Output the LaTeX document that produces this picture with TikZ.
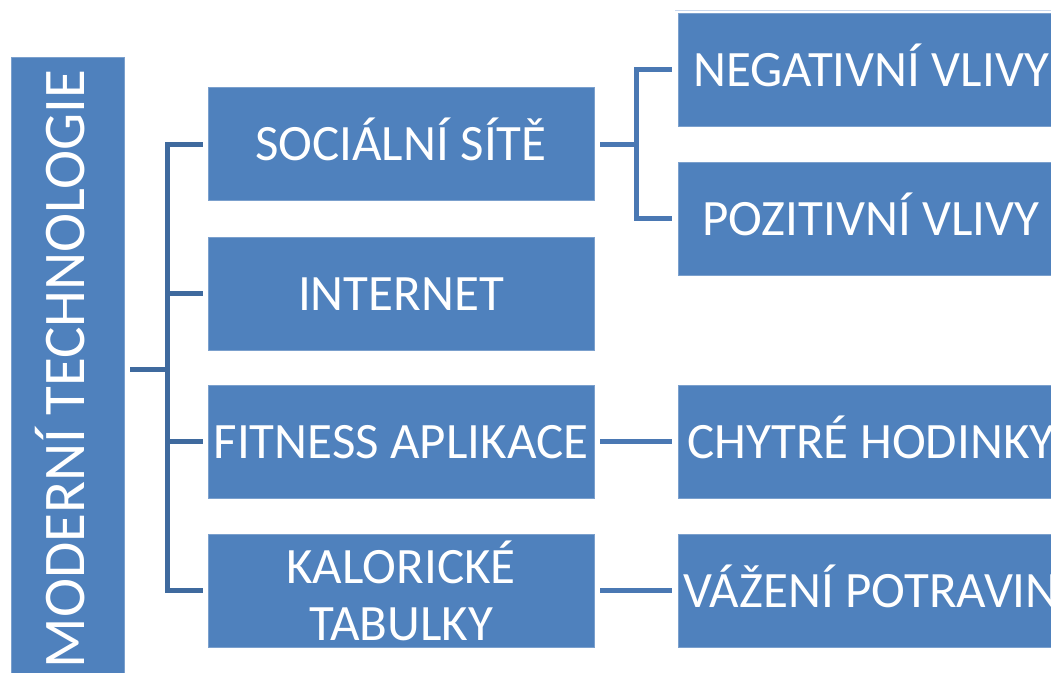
\documentclass[tikz,border=0pt]{standalone}
\usepackage{fontspec}
\setmainfont{Carlito}
\definecolor{boxblue}{HTML}{4F81BD}
\definecolor{lineA}{HTML}{3F6A9E}
\definecolor{lineB}{HTML}{4A78B3}
\definecolor{faint}{HTML}{C9D7EC}
\begin{document}
\begin{tikzpicture}[x=1pt,y=-1pt,
  box/.style={fill=boxblue,draw=boxblue!75!white,line width=0.8pt,text=white,
    minimum width=386pt,minimum height=113pt,inner sep=0pt,align=center,
    text height=33pt,text depth=0pt,
    font=\fontsize{51}{57}\selectfont},
  conA/.style={draw=lineA,line width=5pt},
  conB/.style={draw=lineB,line width=5pt}]
\clip (0,0) rectangle (1051,672);
\fill[white] (0,0) rectangle (1051,672);
% left
\node[fill=boxblue,draw=boxblue!75!white,line width=0.8pt,minimum width=113pt,minimum height=624pt,inner sep=0pt] (main) at (67.5,369) {};
\node[rotate=90,text=white,font=\fontsize{59}{64}\selectfont,inner sep=0pt,text height=38pt,text depth=0pt] (maint) at ([xshift=-2pt]main.center) {MODERNÍ TECHNOLOGIE};
% middle
\node[box] (soc) at (401,144) {SOCIÁLNÍ SÍTĚ};
\node[box] (int) at (401,293.5) {INTERNET};
\node[box] (fit) at (401,441.5) {FITNESS APLIKACE};
\node[box,text height=,text depth=] (kal) at (401,590.5) {KALORICKÉ\\TABULKY};
% right
\draw[faint,line width=1pt] (675,10.5) -- (1051,10.5);
\node[box] (neg) at (871,69.5) {NEGATIVNÍ VLIVY};
\node[box] (poz) at (871,218.5) {POZITIVNÍ VLIVY};
\node[box] (chy) at (871,441.5) {CHYTRÉ HODINKY};
\node[box] (vaz) at (871,590.5) {VÁŽENÍ POTRAVIN};
% connectors
\coordinate (bx) at (167,0);
\coordinate (cx) at (636,0);
\draw[conA] ([xshift=6pt]main.east) -- (main.east -| bx);
\draw[conA,line join=miter] ([xshift=-5pt]soc.west) -- (soc.west -| bx) -- (kal.west -| bx) -- ([xshift=-5pt]kal.west);
\draw[conA] ([xshift=-5pt]int.west) -- (int.west -| bx);
\draw[conA] ([xshift=-5pt]fit.west) -- (fit.west -| bx);
\draw[conB] ([xshift=6pt]soc.east) -- (soc.east -| cx);
\draw[conB,line join=miter] ([xshift=-6pt]neg.west) -- (neg.west -| cx) -- (poz.west -| cx) -- ([xshift=-6pt]poz.west);
\draw[conB] ([xshift=6pt]fit.east) -- ([xshift=-6pt]chy.west);
\draw[conB] ([xshift=6pt]kal.east) -- ([xshift=-6pt]vaz.west);
\end{tikzpicture}
\end{document}
